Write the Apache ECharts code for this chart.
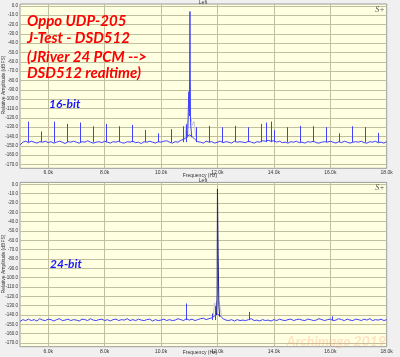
<!DOCTYPE html>
<html><head><meta charset="utf-8">
<script src="https://cdn.jsdelivr.net/npm/echarts@6/dist/echarts.min.js"></script>
<style>html,body{margin:0;padding:0;background:#f0f0f0}#c{width:400px;height:357px}</style>
</head><body><div id="c"></div>
<script>
// ---- axes ----
const xMinHz = 5000, xMaxHz = 18000;
const freqTicks = [6000, 8000, 10000, 12000, 14000, 16000, 18000];
const dbTicks = [0, -10, -20, -30, -40, -50, -60, -70, -80, -90, -100, -110, -120, -130, -140, -150, -160, -170];
const yMinDb = -174, yMaxDb = 2;

// ---- noise floor sampling grid ----
const noiseStartHz = 5000;
const noiseStepHz = 100;

// ---- 16-bit panel (top) ----
const noise16 = [
  -149, -146, -145, -146.5, -145, -146, -147, -145.5, -146, -145,
  -146.5, -145.5, -147, -146, -145, -146, -147.5, -145.5, -146, -145,
  -146, -147, -145.5, -146, -144.5, -146, -147, -146, -145.5, -146.5,
  -145, -146, -147, -145.5, -146, -145, -146.5, -147, -145.5, -146,
  -145, -146.5, -146, -147.5, -145.5, -146, -145, -146, -147, -145.5,
  -146, -145, -144.5, -146, -147, -145.5, -146, -144, -143, -141,
  -138, -140, -143, -145.5, -146, -147, -145, -146, -145.5, -147,
  -146, -145, -146.5, -145.5, -146, -147, -145, -146, -145.5, -146,
  -146.5, -145, -146, -147, -145.5, -146, -144.5, -145, -144, -145,
  -144.5, -146, -145, -146.5, -146, -147, -145.5, -146, -145, -146.5,
  -146, -147, -145.5, -146, -145, -146.5, -147, -146, -145.5, -146,
  -145, -146, -147, -145.5, -146.5, -145, -146, -147, -146, -145.5,
  -146, -145, -146.5, -147, -145.5, -146, -145, -146.5, -146, -147, -145.5
];
const spurHz16 = [5283, 5742, 6202, 6661, 7121, 7580, 8039, 8499, 8958, 9418, 9877, 10337, 10796, 10880,
  11255, 11714, 12174, 12633, 13093, 13552, 13728, 13881, 14012, 14471, 14931, 15390, 15849, 16309, 16768, 17228, 17687];
const spurDb16 = [-124, -134.5, -124, -126.5, -125, -129, -126.5, -129, -127.5, -133, -136.5, -132, -129, -127,
  -130, -128.5, -130, -128.5, -130, -126.5, -125, -124, -133, -130, -128.5, -129, -130, -136.5, -129, -130, -136];
const floor16 = -146;
const peakHz16 = [10940, 10985, 11005, 11025, 11045, 11090];
const peakDb16 = [-141, -92, -118, -6, -125, -141];
const skirtHz16 = [10850, 10900, 10950, 10985, 11060, 11110, 11170, 11230];
const skirtDb16 = [-142, -126, -131, -116, -120, -128, -124, -140];

// ---- 24-bit panel (bottom) ----
const noise24 = [
  -147, -145, -146, -144.5, -146, -145, -146.5, -144, -145.5, -146,
  -144.5, -145, -146.5, -145, -144, -146, -145.5, -144.5, -146, -145,
  -145.5, -146.5, -144.5, -145, -146, -144, -145.5, -146, -145, -144.5,
  -146, -145, -146.5, -145, -144.5, -146, -145, -145.5, -144, -146,
  -145, -146, -144.5, -145.5, -146, -145, -144.5, -146.5, -145, -146,
  -145.5, -144.5, -146, -145, -146, -145.5, -144, -145, -146, -144,
  -145.5, -144.5, -146, -145, -144, -143.5, -145, -144, -143, -141,
  -139, -141, -144, -145.5, -146, -145, -146.5, -145, -146, -145.5,
  -146, -145, -144, -146, -145.5, -146.5, -145, -146, -145.5, -146.5,
  -145, -146, -144.5, -145.5, -146, -145, -144.5, -146, -145, -144.5,
  -145.5, -146, -144.5, -145, -146, -145.5, -144, -145, -146, -145,
  -144.5, -146, -145.5, -144, -145, -146, -144.5, -145.5, -146, -144.5,
  -145, -146, -144.5, -145.5, -144, -146, -145, -145.5, -144.5, -146, -145
];
const spurHz24 = [10897, 11810, 11902, 13135, 16070];
const spurDb24 = [-127.7, -138.4, -130.6, -136.7, -141.5];
const floor24 = -145.5;
const peakHz24 = [11965, 11988, 12000, 12025, 12050, 12080];
const peakDb24 = [-140, -118, -5, -75, -130, -142];
const skirtHz24 = [11850, 11900, 11950, 11980, 12060, 12100, 12150];
const skirtDb24 = [-141, -127, -133, -125, -126, -133, -141];

// ---- styling ----
const BLUE = '#4040ff', LIGHT = '#c4c4dc', GRIDC = '#c2bf9f';
const LAB = 'Liberation Sans';

function pairs(xs, ys) { return xs.map((x, i) => [x, ys[i]]); }
function noisePairs(arr) { return arr.map((v, i) => [noiseStartHz + i * noiseStepHz, v]); }

const grids = [
  { left: 20, right: 13.3, top: 4, height: 164.3 },
  { left: 20, right: 13.3, top: 182.4, height: 164.3 }
];
grids.forEach(g => Object.assign(g, { show: true, backgroundColor: '#ffffe1', borderColor: '#9a9a9a', borderWidth: 1 }));

function xAx(i) {
  return {
    type: 'value', gridIndex: i, min: xMinHz, max: xMaxHz,
    axisLine: { show: false }, splitLine: { show: false },
    axisTick: { show: false },
    axisLabel: { customValues: freqTicks, fontSize: 5, fontFamily: LAB, color: '#333', margin: 2,
      formatter: v => (v / 1000).toFixed(1) + 'k' }
  };
}
function yAx(i) {
  return {
    type: 'value', gridIndex: i, min: yMinDb, max: yMaxDb,
    axisLine: { show: false }, splitLine: { show: false }, axisTick: { show: false },
    axisLabel: { customValues: dbTicks, fontSize: 4.5, fontFamily: LAB, color: '#333', margin: 2,
      formatter: v => v.toFixed(1) }
  };
}
function gridLines() {
  return {
    silent: true, symbol: 'none', z: 1, label: { show: false },
    lineStyle: { color: GRIDC, width: 1, type: 'solid' },
    emphasis: { disabled: true },
    data: freqTicks.filter(f => f < xMaxHz).map(f => ({ xAxis: f })).concat(dbTicks.map(d => ({ yAxis: d })))
  };
}
function spikeSeries(i, hz, db, floor, color) {
  return {
    type: 'custom', xAxisIndex: i, yAxisIndex: i, z: 3, silent: true,
    data: hz.map((f, k) => [f, floor, db[k]]),
    encode: { x: 0, y: [1, 2] },
    renderItem: (params, api) => {
      const p0 = api.coord([api.value(0), api.value(1)]);
      const p1 = api.coord([api.value(0), api.value(2)]);
      return { type: 'line', shape: { x1: Math.round(p0[0]) + 0.5, y1: p0[1], x2: Math.round(p1[0]) + 0.5, y2: p1[1] },
        style: { stroke: color, lineWidth: 1 } };
    }
  };
}
function panelSeries(i, noise, sHz, sDb, floor, pHz, pDb, kHz, kDb, peakColor) {
  return [
    { type: 'line', xAxisIndex: i, yAxisIndex: i, data: pairs(kHz, kDb), symbol: 'none', z: 2, silent: true,
      lineStyle: { color: LIGHT, width: 1 }, markLine: gridLines() },
    { type: 'line', xAxisIndex: i, yAxisIndex: i, data: noisePairs(noise), symbol: 'none', z: 3, silent: true,
      lineStyle: { color: BLUE, width: 1 } },
    spikeSeries(i, sHz, sDb, floor, BLUE),
    { type: 'line', xAxisIndex: i, yAxisIndex: i, data: pairs(pHz, pDb), symbol: 'none', z: 4, silent: true,
      lineStyle: { color: peakColor, width: 1 } }
  ];
}

const smallText = (x, y, t, extra) => Object.assign({ type: 'text', x, y, z: 10, silent: true,
  style: { text: t, fontSize: 5, fontFamily: LAB, fill: '#333', align: 'center', verticalAlign: 'middle' } }, extra || {});

const graphics = [
  smallText(203, 2.5, 'Left'),
  smallText(200, 175.3, 'Frequency (Hz)'),
  smallText(203, 180.6, 'Left'),
  smallText(200, 352.5, 'Frequency (Hz)'),
  smallText(3.5, 85, 'Relative Amplitude (dBFS)', { rotation: Math.PI / 2 }),
  smallText(3.5, 264, 'Relative Amplitude (dBFS)', { rotation: Math.PI / 2 }),
  { type: 'text', x: 380, y: 10, z: 10, silent: true, style: { text: 'S+', fontSize: 8, fontStyle: 'italic', fontFamily: 'Liberation Serif', fill: '#555', align: 'center', verticalAlign: 'middle' } },
  { type: 'text', x: 380, y: 188, z: 10, silent: true, style: { text: 'S+', fontSize: 8, fontStyle: 'italic', fontFamily: 'Liberation Serif', fill: '#555', align: 'center', verticalAlign: 'middle' } }
];
const redLines = ['Oppo UDP-205', 'J-Test - DSD512', '(JRiver 24 PCM -->', 'DSD512 realtime)'];
const redY = [20.7, 38.3, 56.7, 72.7];
redLines.forEach((t, k) => graphics.push({ type: 'text', x: 27, y: redY[k], z: 10, silent: true,
  style: { text: t, fontSize: 15, fontWeight: 'bold', fontStyle: 'italic', fontFamily: 'Lato', fill: '#ff0000', align: 'left', verticalAlign: 'middle' } }));
graphics.push({ type: 'text', x: 49, y: 104.3, z: 10, silent: true,
  style: { text: '16-bit', fontSize: 12, fontWeight: 'bold', fontStyle: 'italic', fontFamily: 'Lato', fill: '#1a1aff', align: 'left', verticalAlign: 'middle' } });
graphics.push({ type: 'text', x: 50, y: 264, z: 10, silent: true,
  style: { text: '24-bit', fontSize: 12, fontWeight: 'bold', fontStyle: 'italic', fontFamily: 'Lato', fill: '#1a1aff', align: 'left', verticalAlign: 'middle' } });
graphics.push({ type: 'text', x: 386, y: 341.5, z: 10, silent: true,
  style: { text: 'Archimago 2019', fontSize: 14, fontWeight: 'bold', fontStyle: 'italic', fontFamily: 'Lato', fill: 'rgba(255,150,110,0.28)', align: 'right', verticalAlign: 'middle' } });

const chart = echarts.init(document.getElementById('c'), null, { renderer: 'canvas' });
chart.setOption({
  animation: false,
  backgroundColor: '#f0f0f0',
  grid: grids,
  xAxis: [xAx(0), xAx(1)],
  yAxis: [yAx(0), yAx(1)],
  series: [
    ...panelSeries(0, noise16, spurHz16, spurDb16, floor16, peakHz16, peakDb16, skirtHz16, skirtDb16, BLUE),
    ...panelSeries(1, noise24, spurHz24, spurDb24, floor24, peakHz24, peakDb24, skirtHz24, skirtDb24, '#22228a')
  ],
  graphic: graphics
});
</script></body></html>
